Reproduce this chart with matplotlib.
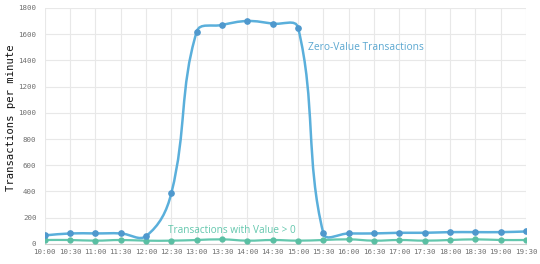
import numpy as np
import matplotlib
matplotlib.use("Agg")
import matplotlib.pyplot as plt
from matplotlib.path import Path
from matplotlib.patches import PathPatch

times = ["10:00", "10:30", "11:00", "11:30", "12:00", "12:30", "13:00", "13:30",
         "14:00", "14:30", "15:00", "15:30", "16:00", "16:30", "17:00", "17:30",
         "18:00", "18:30", "19:00", "19:30"]
zero_value = [65, 80, 80, 80, 60, 390, 1620, 1670, 1700, 1680, 1650, 80,
              80, 80, 85, 85, 90, 90, 90, 95]
value_pos = [30, 30, 25, 30, 25, 25, 30, 35, 25, 30, 25, 30,
             35, 25, 30, 25, 30, 35, 30, 30]

BLUE_LINE = "#5aafdb"
BLUE_DOT = "#4f98cd"
TEAL_LINE = "#63c7ad"
TEAL_DOT = "#5abfa3"
GRID = "#e8e8e8"
TICK = "#707070"


def smooth_path(ax, xs, ys, tension=0.4):
    # Chart.js style bezier through the points, computed in pixel space
    trans = ax.transData
    pts = trans.transform(np.column_stack([xs, ys]))
    n = len(pts)
    cps = []
    for i in range(n):
        prev = pts[max(i - 1, 0)]
        cur = pts[i]
        nxt = pts[min(i + 1, n - 1)]
        d01 = np.hypot(*(cur - prev))
        d12 = np.hypot(*(nxt - cur))
        tot = d01 + d12
        s01 = d01 / tot if tot else 0
        s12 = d12 / tot if tot else 0
        cps.append((cur - tension * s01 * (nxt - prev),
                    cur + tension * s12 * (nxt - prev)))
    verts = [pts[0]]
    codes = [Path.MOVETO]
    for i in range(1, n):
        verts += [cps[i - 1][1], cps[i][0], pts[i]]
        codes += [Path.CURVE4] * 3
    verts = trans.inverted().transform(np.array(verts))
    return Path(verts, codes)


fig = plt.figure(figsize=(5.4, 2.64), dpi=100, facecolor="white")
ax = fig.add_axes([0.083, 0.076, 0.891, 0.894])
x = np.arange(len(times))
ax.set_xlim(0, len(times) - 1)
ax.set_ylim(0, 1800)

ax.set_yticks(range(0, 1801, 200))
ax.set_xticks(x)
ax.set_xticklabels(times)
ax.grid(True, color=GRID, lw=0.8)
ax.set_axisbelow(True)
for side in ["top", "right", "left"]:
    ax.spines[side].set_visible(False)
ax.spines["bottom"].set_color("#cccccc")
ax.tick_params(length=0, colors=TICK, labelsize=5.4)
ax.tick_params(axis="y", pad=6)
ax.tick_params(axis="x", pad=4)
for lbl in ax.get_xticklabels() + ax.get_yticklabels():
    lbl.set_family("DejaVu Sans Mono")

ax.set_ylabel("Transactions per minute", family="DejaVu Sans Mono",
              fontsize=7.6, color="#111111")
ax.yaxis.set_label_coords(-0.060, 0.534)

ax.add_patch(PathPatch(smooth_path(ax, x, value_pos), fill=False,
                       edgecolor=TEAL_LINE, lw=1.6, zorder=3))
ax.plot(x, value_pos, "o", color=TEAL_DOT, ms=3.5, zorder=4)
ax.add_patch(PathPatch(smooth_path(ax, x, zero_value), fill=False,
                       edgecolor=BLUE_LINE, lw=1.8, zorder=5))
ax.plot(x, zero_value, "o", color=BLUE_DOT, ms=3.8, zorder=6)

ax.text(10.4, 1500, "Zero-Value Transactions", color="#5aa7d0",
        fontsize=7.4, family="Open Sans", va="center")
ax.text(4.86, 100, "Transactions with Value > 0", color=TEAL_LINE,
        fontsize=7.2, family="Open Sans", va="center")

fig.savefig("out.png", dpi=100, facecolor="white")
